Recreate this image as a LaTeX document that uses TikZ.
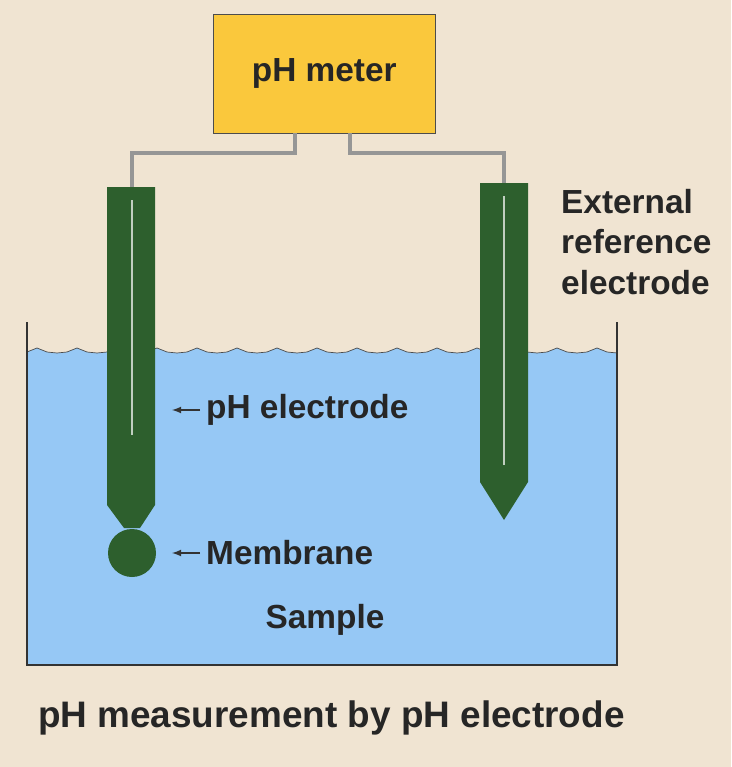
\documentclass[tikz,border=0pt]{standalone}
\usepackage{fontspec}
\setmainfont{Liberation Sans}
\definecolor{tan}{RGB}{240,228,210}
\definecolor{meter}{RGB}{250,200,60}
\definecolor{electrode}{RGB}{45,95,45}
\definecolor{water}{RGB}{150,200,245}
\definecolor{wire}{RGB}{150,150,150}
\tikzset{
  lbl/.style={font=\bfseries\fontsize{19}{23}\selectfont, text=black!85},
  pointer/.style={-latex, thick, black!80},
}
\begin{document}
\begin{tikzpicture}[x=0.02cm,y=-0.02cm]
\useasboundingbox (0,0) rectangle (731,767);
\fill[tan] (0,0) rectangle (731,767);

% sample liquid
\begin{scope}
\clip (27,300) rectangle (617,665);
\fill[water] (27,352) \foreach \i in {0,...,29} {-- ({27+\i*20+10},{348+mod(\i,2)*5}) -- ({27+(\i+1)*20},{352})} -- (627,352) -- (627,665) -- (27,665) -- cycle;
\draw[black!70, thin] (27,352) \foreach \i in {0,...,29} {-- ({27+\i*20+10},{348+mod(\i,2)*5}) -- ({27+(\i+1)*20},{352})};
\end{scope}
\draw[black!80, thick] (27,322) -- (27,665) -- (617,665) -- (617,322);

% meter
\node[draw=black!70, fill=meter, minimum width=4.44cm, minimum height=2.38cm, anchor=north west, lbl] (meter) at (213,14) {pH meter};

% electrodes
\fill[electrode] (107,187) -- (155,187) -- (155,505) -- (140,528) -- (124,528) -- (107,505) -- cycle;
\fill[electrode] (132,553) circle (24);
\fill[electrode] (480,183) -- (528,183) -- (528,482) -- (504,520) -- (480,482) -- cycle;
\coordinate (phtop) at (132,187);
\coordinate (reftop) at (504,183);
\draw[white!70!electrode, line width=1.2pt] (132,200) -- (132,435);
\draw[white!70!electrode, line width=1.2pt] (504,196) -- (504,465);

% wires
\draw[wire, line width=2pt] (295,133) -- (295,153) -- (132,153) -- (phtop);
\draw[wire, line width=2pt] (350,133) -- (350,153) -- (504,153) -- (reftop);

% labels
\node[lbl, anchor=west, align=left] (extref) at (555,242) {External\\reference\\electrode};
\node[lbl, anchor=west] (phel) at (200,410) {pH electrode};
\node[lbl, anchor=west] (memb) at (200,553) {Membrane};
\node[lbl] (sample) at (325,620) {Sample};
\coordinate (phpt) at (172,410);
\coordinate (mempt) at (172,553);
\draw[pointer] (phel.west) -- (phpt);
\draw[pointer] (memb.west) -- (mempt);
\node[lbl, font=\bfseries\fontsize{21}{25}\selectfont, anchor=west] (caption) at (32,718) {pH measurement by pH electrode};
\end{tikzpicture}
\end{document}
